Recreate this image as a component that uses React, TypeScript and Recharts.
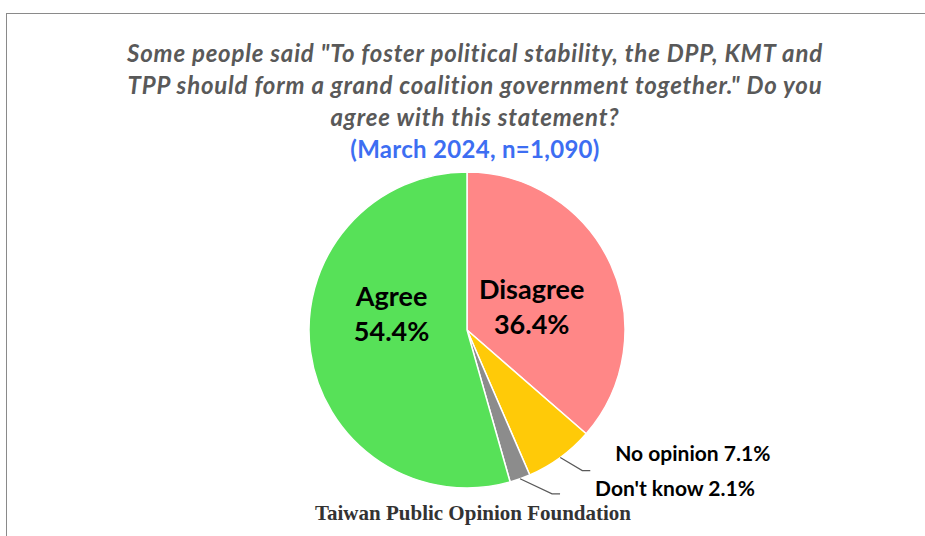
import { PieChart, Pie, Cell } from "recharts";

const categories = ["Disagree", "No opinion", "Don't know", "Agree"];
const shares = [36.4, 7.1, 2.1, 54.4];
const sliceColors = ["#FF8787", "#FFCA08", "#8C8C8C", "#57E158"];

const titleLines = [
  'Some people said "To foster political stability, the DPP, KMT and',
  'TPP should form a grand coalition government together." Do you',
  "agree with this statement?",
];
const subtitle = "(March 2024, n=1,090)";
const source = "Taiwan Public Opinion Foundation";

const data = categories.map((name, i) => ({ name, value: shares[i] }));

const RAD = Math.PI / 180;
const LABEL_FONT = "Lato, 'Open Sans', sans-serif";

// nudges for the two big in-slice labels
const innerNudge: Record<string, [number, number]> = {
  Disagree: [0, 5],
  Agree: [-5, -27],
};
// leader line elbow and text offsets for the small slices
const outerLeader: Record<string, { ex: number; ey: number; tx: number; ty: number }> = {
  "No opinion": { ex: 22, ey: 13, tx: 25, ty: -18 },
  "Don't know": { ex: 32, ey: 15, tx: 35, ty: -6 },
};

function renderLabel(p: any) {
  const { cx, cy, midAngle, outerRadius, name, value } = p;
  const cos = Math.cos(-midAngle * RAD);
  const sin = Math.sin(-midAngle * RAD);
  const pct = `${Number(value).toFixed(1)}%`;

  if (innerNudge[name]) {
    const r = outerRadius * 0.45;
    const [dx, dy] = innerNudge[name];
    const x = cx + r * cos + dx;
    const y = cy + r * sin + dy;
    return (
      <text
        x={x}
        y={y}
        textAnchor="middle"
        fill="#000"
        fontFamily={LABEL_FONT}
        fontWeight={700}
        fontSize={27}
      >
        <tspan x={x} dy={-17} dominantBaseline="central">{name}</tspan>
        <tspan x={x} dy={35} dominantBaseline="central">{pct}</tspan>
      </text>
    );
  }

  const cfg = outerLeader[name];
  const x0 = cx + outerRadius * cos;
  const y0 = cy + outerRadius * sin;
  const x1 = x0 + cfg.ex;
  const y1 = y0 + cfg.ey;
  const x2 = x1 + 8;
  return (
    <g>
      <polyline
        points={`${x0},${y0} ${x1},${y1} ${x2},${y1}`}
        fill="none"
        stroke="#595959"
        strokeWidth={1.2}
      />
      <text
        x={x2 + cfg.tx}
        y={y1 + cfg.ty}
        textAnchor="start"
        dominantBaseline="central"
        fill="#000"
        fontFamily={LABEL_FONT}
        fontWeight={700}
        fontSize={21}
      >
        {`${name} ${pct}`}
      </text>
    </g>
  );
}

export default function App() {
  return (
    <div
      style={{
        position: "absolute",
        left: 0,
        top: 0,
        width: 925,
        height: 536,
        overflow: "hidden",
        background: "#fff",
      }}
    >
      <div
        style={{
          position: "absolute",
          left: 6,
          top: 13,
          width: 1000,
          height: 600,
          border: "1.5px solid #8a8a8a",
        }}
      />
      <div
        style={{
          position: "absolute",
          left: 0,
          top: 37,
          width: 950,
          textAlign: "center",
          fontFamily: LABEL_FONT,
          fontWeight: 700,
          fontStyle: "italic",
          fontSize: 24,
          letterSpacing: 0.8,
          lineHeight: "32px",
          color: "#595959",
        }}
      >
        {titleLines.map((l) => (
          <div key={l}>{l}</div>
        ))}
        <div style={{ color: "#3D6EF2", fontStyle: "normal", letterSpacing: 0.3 }}>{subtitle}</div>
      </div>
      <div style={{ position: "absolute", left: 0, top: 0 }}>
        <PieChart width={925} height={536} margin={{ top: 0, right: 0, bottom: 0, left: 0 }}>
          <Pie
            data={data}
            dataKey="value"
            nameKey="name"
            cx={467}
            cy={330}
            outerRadius={158}
            startAngle={90}
            endAngle={-270}
            stroke="#fff"
            strokeWidth={1.5}
            label={renderLabel}
            labelLine={false}
            isAnimationActive={false}
          >
            {data.map((d, i) => (
              <Cell key={d.name} fill={sliceColors[i]} />
            ))}
          </Pie>
        </PieChart>
      </div>
      <div
        style={{
          position: "absolute",
          left: 0,
          top: 502,
          width: 946,
          textAlign: "center",
          fontFamily: "'Liberation Serif', 'DejaVu Serif', serif",
          fontWeight: 700,
          fontSize: 21,
          lineHeight: "22px",
          color: "#333",
        }}
      >
        {source}
      </div>
    </div>
  );
}
